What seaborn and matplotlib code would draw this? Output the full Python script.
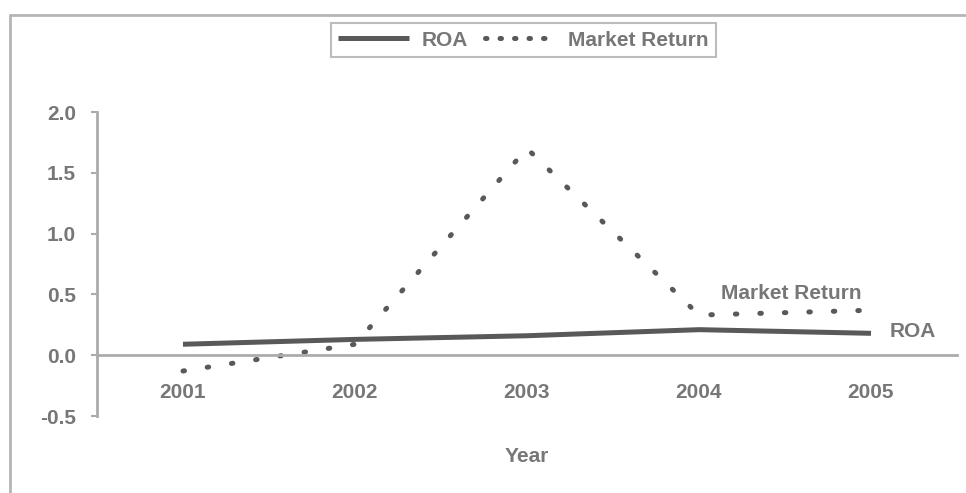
import matplotlib
matplotlib.use("Agg")
import matplotlib.pyplot as plt
import seaborn as sns
import pandas as pd
from matplotlib.lines import Line2D

# Data
years = ["2001", "2002", "2003", "2004", "2005"]
roa = [0.09, 0.13, 0.16, 0.21, 0.18]
market_return = [-0.13, 0.09, 1.70, 0.33, 0.37]
y_ticks = [-0.5, 0.0, 0.5, 1.0, 1.5, 2.0]

df = pd.DataFrame({
    "Year": years * 2,
    "Value": roa + market_return,
    "Series": ["ROA"] * len(years) + ["Market Return"] * len(years),
})

sns.set_theme(style="white")
plt.rcParams["font.family"] = ["Liberation Sans", "DejaVu Sans"]
plt.rcParams["font.weight"] = "bold"

W, H = 966, 493
LINE = "#595959"
TEXT = "#777777"
AXIS = "#ababab"

fig = plt.figure(figsize=(W / 100, H / 100), dpi=100)
fig.patch.set_facecolor("white")
ax = fig.add_axes([97 / W, 1 - 416 / H, (957 - 97) / W, (416 - 112) / H])

sns.lineplot(
    data=df, x="Year", y="Value", hue="Series", style="Series",
    palette={"ROA": LINE, "Market Return": LINE},
    dashes={"ROA": "", "Market Return": (0.3, 4.6)},
    linewidth=3.6, legend=False, sort=False, ax=ax,
)
for ln in ax.lines:
    ln.set_dash_capstyle("round")
    ln.set_solid_capstyle("butt")

ax.set_xlim(-0.5, len(years) - 0.5)
ax.set_ylim(-0.5, 2.0)
ax.set_yticks(y_ticks)
ax.set_yticklabels([f"{v:.1f}" for v in y_ticks])

for side in ("top", "right"):
    ax.spines[side].set_visible(False)
ax.spines["bottom"].set_position(("data", 0))
for side in ("left", "bottom"):
    ax.spines[side].set_color(AXIS)
    ax.spines[side].set_linewidth(2)

ax.tick_params(axis="x", length=0, pad=20, labelsize=15, labelcolor=TEXT)
ax.tick_params(axis="y", direction="out", length=4, width=1.5, color=AXIS,
               pad=11, labelsize=15, labelcolor=TEXT, left=True)
ax.set_xlabel("")
ax.set_ylabel("")
ax.grid(False)

fig.text(527 / W, 1 - 457 / H, "Year", ha="center", va="center",
         fontsize=15, fontweight="bold", color=TEXT)

# Series end labels
ax.annotate("Market Return", xy=(4, market_return[-1]), xytext=(-57.6, 12.2),
            textcoords="offset points", ha="center", va="center",
            fontsize=15, color=TEXT)
ax.annotate("ROA", xy=(4, roa[-1]), xytext=(30, 1.0),
            textcoords="offset points", ha="center", va="center",
            fontsize=15, color=TEXT)

handles = [
    Line2D([], [], color=LINE, lw=3.6, solid_capstyle="butt"),
    Line2D([], [], color=LINE, lw=3.6, dashes=(0.3, 2.6), dash_capstyle="round"),
]
leg = fig.legend(handles, ["ROA", "Market Return"], loc="center",
                 bbox_to_anchor=((326 + 721) / 2 / W, 1 - 40 / H), ncol=2,
                 frameon=True, fancybox=False, fontsize=15, handlelength=3.4,
                 handletextpad=0.6, columnspacing=0.8, borderpad=0.35,
                 borderaxespad=0)
leg.get_frame().set_edgecolor(AXIS)
leg.get_frame().set_linewidth(1.5)
for t in leg.get_texts():
    t.set_color(TEXT)

# Chart frame
fig.add_artist(Line2D([10 / W, 10 / W], [0, 1 - 15 / H], color="#b5b5b5", lw=2,
                      transform=fig.transFigure))
fig.add_artist(Line2D([10 / W, 1], [1 - 15 / H, 1 - 15 / H], color="#b5b5b5", lw=2,
                      transform=fig.transFigure))

fig.savefig("out.png", dpi=100, facecolor="white")
